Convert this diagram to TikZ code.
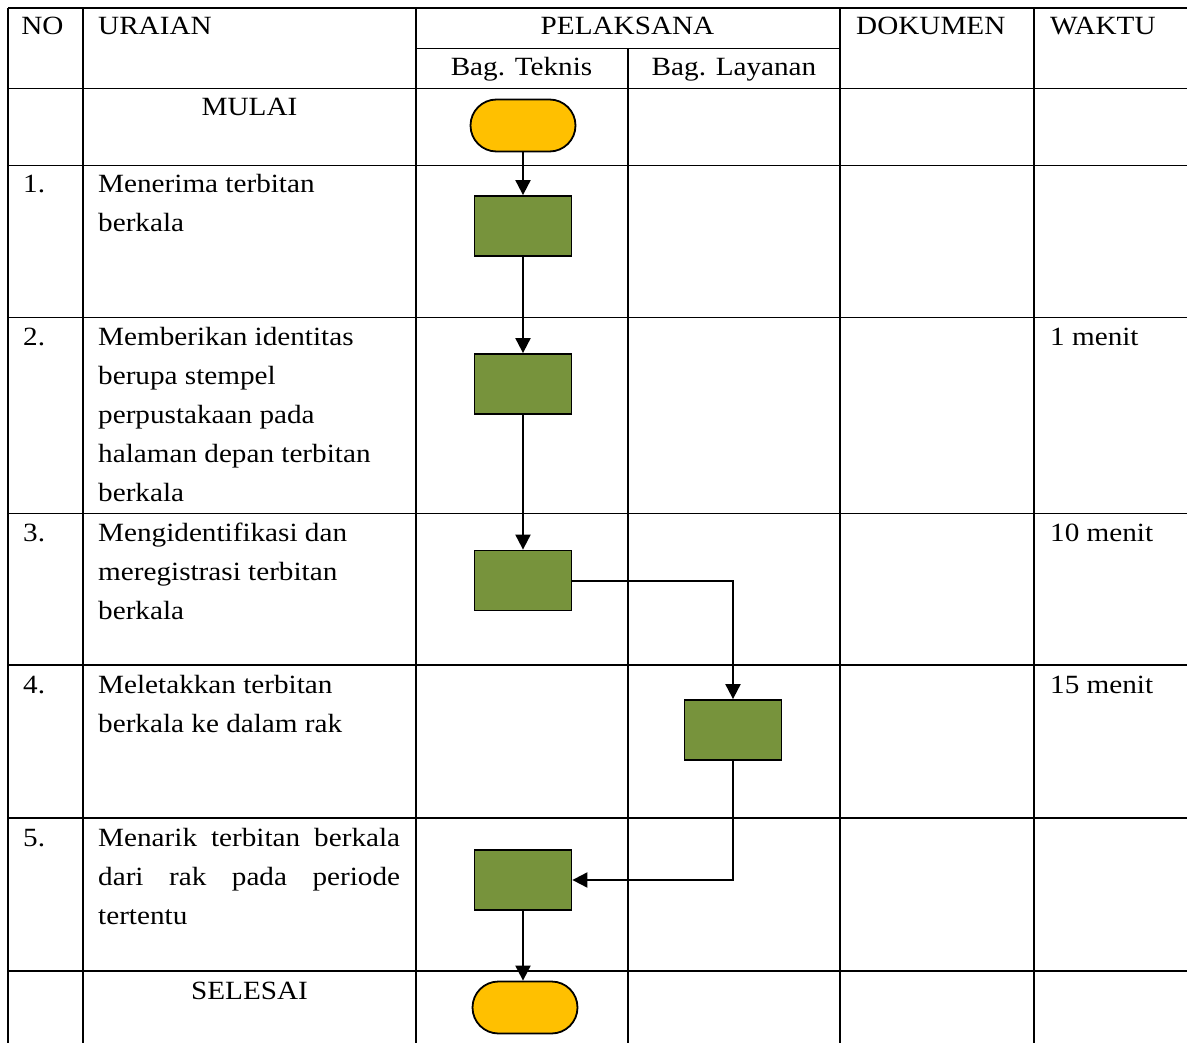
\documentclass[tikz,border=0pt]{standalone}
\usepackage{fontspec}
\usepackage{graphicx}
\setmainfont{Liberation Serif}
\usetikzlibrary{shapes.misc,arrows.meta}
\definecolor{termyellow}{HTML}{FFC000}
\definecolor{procgreen}{HTML}{77933C}
\newcommand\wide[1]{\scalebox{1.11}[1]{#1}}
\newcommand\cell[1]{\wide{\parbox[t]{300pt}{\raggedright #1}}}
\begin{document}
\begin{tikzpicture}[x=1pt,y=-1pt,
  grid/.style={line width=1.8pt,black},
  txt/.style={inner sep=0pt,anchor=base west,font=\fontsize{26.3}{39}\selectfont},
  ctxt/.style={inner sep=0pt,anchor=base,font=\fontsize{26.3}{39}\selectfont},
  term/.style={rounded rectangle,draw=black,line width=1.8pt,fill=termyellow,minimum width=105pt,minimum height=52pt,inner sep=0pt},
  proc/.style={rectangle,draw=black,line width=1.8pt,fill=procgreen,minimum width=97pt,minimum height=60pt,inner sep=0pt},
  flow/.style={line width=2pt,-{Triangle[length=15pt,width=15pt]}}]
\useasboundingbox (0,0) rectangle (1187,1043);
% table grid
\draw[grid] (8,8) -- (1187,8);
\draw[grid] (416,48.5) -- (840,48.5);
\foreach \yy in {88.5,165.5,317.5,513.5,665,818,971}
  \draw[grid] (8,\yy) -- (1187,\yy);
\foreach \xx in {8,83,416,840,1034}
  \draw[grid] (\xx,8) -- (\xx,1043);
\draw[grid] (628,48.5) -- (628,1043);
% headers
\node[ctxt] (hno) at (42.5,35) {\wide{NO}};
\node[txt] (hur) at (98,35) {\wide{URAIAN}};
\node[ctxt] (hpel) at (627.5,35) {\wide{PELAKSANA}};
\node[ctxt] (hbt) at (521.5,76) {\wide{Bag. Teknis}};
\node[ctxt] (hbl) at (734,76) {\wide{Bag. Layanan}};
\node[txt] (hdok) at (856,35) {\wide{DOKUMEN}};
\node[txt] (hwak) at (1050,35) {\wide{WAKTU}};
% rows
\node[ctxt] (tmulai) at (249.5,116) {\wide{MULAI}};
\node[txt] (n1) at (23,193) {\wide{1.}};
\node[txt] (u1) at (98,193) {\cell{Menerima terbitan\\berkala}};
\node[txt] (n2) at (23,345.5) {\wide{2.}};
\node[txt] (u2) at (98,345.5) {\cell{Memberikan identitas\\berupa stempel\\perpustakaan pada\\halaman depan terbitan\\berkala}};
\node[txt] (w2) at (1050,345.5) {\wide{1 menit}};
\node[txt] (n3) at (23,541) {\wide{3.}};
\node[txt] (u3) at (98,541) {\cell{Mengidentifikasi dan\\meregistrasi terbitan\\berkala}};
\node[txt] (w3) at (1050,541) {\wide{10 menit}};
\node[txt] (n4) at (23,693) {\wide{4.}};
\node[txt] (u4) at (98,693) {\cell{Meletakkan terbitan\\berkala ke dalam rak}};
\node[txt] (w4) at (1050,693) {\wide{15 menit}};
\node[txt] (n5) at (23,846) {\wide{5.}};
\node[txt] (u5) at (98,846) {\cell{\makebox[272pt][s]{Menarik terbitan berkala}\\\makebox[272pt][s]{dari rak pada periode}\\tertentu}};
\node[ctxt] (tselesai) at (249.5,999) {\wide{SELESAI}};
% flow shapes
\node[term] (start) at (523,125.5) {};
\node[proc] (b1) at (523,226) {};
\node[proc] (b2) at (523,384) {};
\node[proc] (b3) at (523,580.5) {};
\node[proc] (b4) at (733,730) {};
\node[proc] (b5) at (523,880) {};
\node[term] (stop) at (525,1007.5) {};
% connectors
\draw[flow] (start) -- (b1);
\draw[flow] (b1) -- (b2);
\draw[flow] (b2) -- (b3);
\draw[flow] (b3.east) -| (b4.north);
\draw[flow] (b4.south) |- (b5.east);
\draw[flow] (b5) -- (b5 |- stop.north);
\end{tikzpicture}
\end{document}
